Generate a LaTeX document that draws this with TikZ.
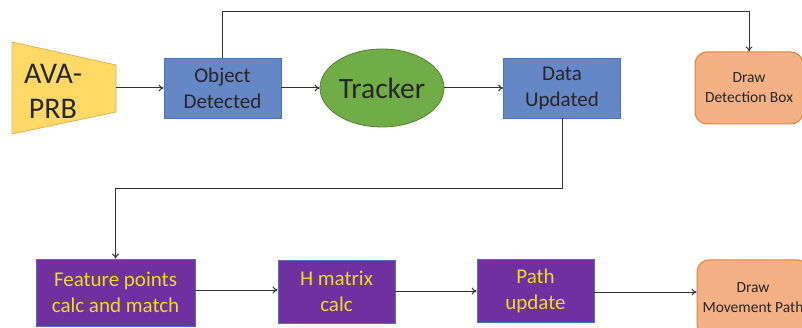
\documentclass[tikz,border=0pt]{standalone}
\usepackage{fontspec}
\setmainfont{Carlito}
\usetikzlibrary{arrows.meta,shapes.geometric}
\definecolor{txt}{HTML}{262626}
\definecolor{bluefill}{HTML}{6587C6}
\definecolor{blueline}{HTML}{4A72C4}
\definecolor{greenfill}{HTML}{70AD47}
\definecolor{greenline}{HTML}{507E32}
\definecolor{yelfill}{HTML}{FFD966}
\definecolor{yelline}{HTML}{D6B656}
\definecolor{orfill}{HTML}{F4B183}
\definecolor{orline}{HTML}{E0803F}
\definecolor{purfill}{HTML}{7030A0}
\definecolor{purtext}{HTML}{E6E020}
\definecolor{linec}{HTML}{333333}
\tikzset{
  bluebox/.style={draw=blueline, fill=bluefill, line width=0.8pt, minimum width=117pt, minimum height=60pt, align=center, text=txt, font=\fontsize{21}{26}\selectfont, inner sep=0pt},
  purbox/.style={draw=blueline, fill=purfill, line width=0.8pt, minimum width=117pt, minimum height=63pt, align=center, text=purtext, font=\fontsize{21}{26}\selectfont, inner sep=0pt},
  orbox/.style={draw=orline, fill=orfill, line width=1pt, rounded corners=12pt, minimum width=108pt, minimum height=72pt, align=center, text=txt, font=\fontsize{15.5}{20}\selectfont, inner sep=0pt},
  conn/.style={draw=linec, line width=1pt, -{To[length=5pt,width=7pt]}},
  plain/.style={draw=linec, line width=1pt}
}
\begin{document}
\begin{tikzpicture}[x=1pt,y=-1pt]
\useasboundingbox (0,0) rectangle (802,328);
\clip (0,0) rectangle (802,328);
% AVA-PRB trapezoid
\draw[yelline, fill=yelfill, line width=0.8pt] (12,42) -- (116,65) -- (116,112) -- (12,134) -- cycle;
\node[text=txt, font=\fontsize{30}{35}\selectfont, align=center] (ava) at (53,91) {AVA-\\PRB};
\coordinate (avaout) at (116,88);
\node[bluebox] (obj) at (222.5,88) {Object\\Detected};
\node[ellipse, draw=greenline, fill=greenfill, line width=0.8pt, minimum width=124pt, minimum height=78pt, text=txt, font=\fontsize{29.5}{32}\selectfont, inner sep=0pt] (trk) at (382,88) {Tracker};
\node[bluebox] (data) at (562,88) {Data\\Updated};
\node[orbox] (ddb) at (749,88) {Draw\\Detection Box};
\node[purbox, minimum width=159pt, minimum height=67pt] (feat) at (115.5,292.5) {Feature points\\calc and match};
\node[purbox] (hm) at (336.5,291.5) {H matrix\\calc};
\node[purbox] (path) at (535.5,291) {Path\\update};
\node[orbox, minimum width=112pt, minimum height=76pt] (dmp) at (753,298) {Draw\\Movement Path};
% connectors
\draw[conn] (avaout) -- (obj.west);
\draw[conn] (obj.east) -- (trk.west);
\draw[conn] (trk.east) -- (data.west);
\draw[conn] (obj.north) -- (222.5,12) -| (ddb.north);
\draw[conn] (data.south) -- (562,189) -| (feat.north);
\draw[conn] (feat.east |- 0,290) -- (hm.west |- 0,290);
\draw[conn] (hm.east |- 0,291) -- (path.west |- 0,291);
\draw[conn] (path.east |- 0,292) -- (dmp.west |- 0,292);
\end{tikzpicture}
\end{document}
